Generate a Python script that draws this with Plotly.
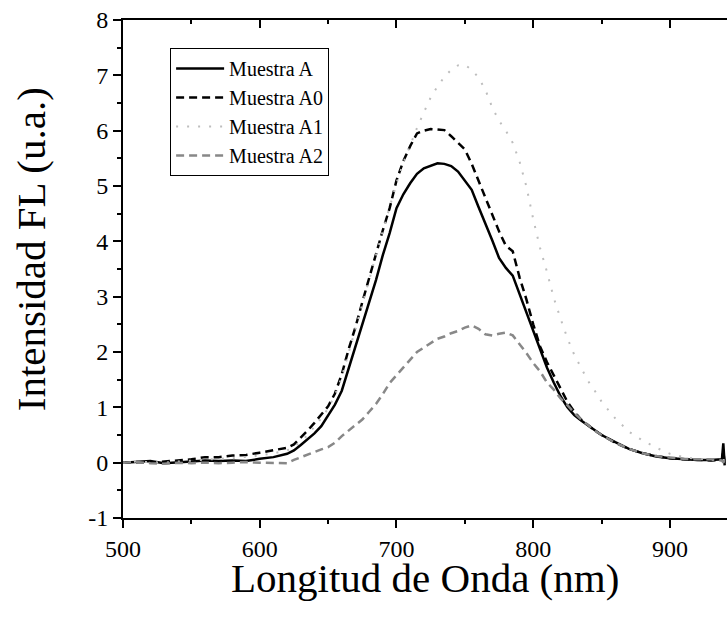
import plotly.graph_objects as go

wavelength = [500, 510, 520, 530, 540, 550, 560, 570, 580, 590, 600, 610, 620,
              625, 630, 635, 640, 645, 650, 655, 660, 665, 670, 675, 680, 685, 690, 695,
              700, 705, 710, 715, 720, 725, 730, 735, 740, 745, 750, 755, 760, 765, 770,
              775, 780, 785, 790, 795, 800, 805, 810, 815, 820, 825, 830, 835, 840, 845,
              850, 860, 870, 880, 890, 900, 910, 920, 930, 938, 939, 940]

muestra_a = [0.00, 0.02, 0.03, -0.01, 0.00, 0.02, 0.04, 0.03, 0.04, 0.03, 0.07, 0.10, 0.16,
             0.22, 0.32, 0.42, 0.53, 0.66, 0.85, 1.05, 1.30, 1.70, 2.10, 2.50, 2.90, 3.30, 3.75, 4.15,
             4.60, 4.85, 5.05, 5.22, 5.32, 5.36, 5.41, 5.40, 5.36, 5.26, 5.10, 4.93, 4.62, 4.33, 4.02,
             3.70, 3.52, 3.38, 3.05, 2.72, 2.40, 2.05, 1.72, 1.45, 1.20, 1.00, 0.86, 0.76, 0.67, 0.58,
             0.50, 0.37, 0.25, 0.17, 0.11, 0.08, 0.06, 0.05, 0.05, 0.06, 0.35, -0.05]

muestra_a0 = [0.00, 0.01, 0.00, 0.02, 0.03, 0.06, 0.10, 0.10, 0.13, 0.14, 0.18, 0.22, 0.27,
              0.33, 0.45, 0.58, 0.72, 0.88, 1.02, 1.25, 1.60, 2.05, 2.45, 2.90, 3.35, 3.80, 4.20, 4.60,
              5.10, 5.45, 5.72, 5.95, 6.00, 6.03, 6.02, 6.01, 5.90, 5.78, 5.66, 5.40, 5.10, 4.80, 4.48,
              4.18, 3.92, 3.82, 3.35, 2.95, 2.50, 2.10, 1.82, 1.58, 1.32, 1.10, 0.92, 0.78, 0.68, 0.58,
              0.50, 0.36, 0.25, 0.17, 0.12, 0.08, 0.06, 0.05, 0.04, 0.05, 0.20, 0.00]

muestra_a1 = [0.00, 0.02, 0.01, 0.00, 0.02, 0.04, 0.06, 0.07, 0.08, 0.10, 0.13, 0.17, 0.22,
              0.28, 0.38, 0.50, 0.64, 0.80, 0.98, 1.22, 1.55, 1.98, 2.40, 2.85, 3.30, 3.75, 4.20, 4.60,
              5.05, 5.42, 5.75, 6.05, 6.33, 6.60, 6.80, 6.97, 7.10, 7.18, 7.19, 7.10, 6.96, 6.74, 6.42,
              6.18, 6.00, 5.78, 5.44, 4.99, 4.40, 3.88, 3.45, 2.98, 2.60, 2.25, 1.95, 1.72, 1.48, 1.30,
              1.10, 0.80, 0.56, 0.40, 0.27, 0.16, 0.10, 0.07, 0.05, 0.05, 0.05, 0.05]

muestra_a2 = [0.00, 0.01, -0.01, -0.02, 0.00, -0.01, 0.00, -0.01, 0.00, 0.01, 0.00, 0.00, -0.01,
              0.05, 0.10, 0.15, 0.20, 0.24, 0.28, 0.36, 0.48, 0.58, 0.68, 0.78, 0.92, 1.06, 1.24, 1.44,
              1.58, 1.72, 1.88, 2.00, 2.08, 2.16, 2.24, 2.28, 2.34, 2.38, 2.44, 2.48, 2.42, 2.32, 2.30,
              2.33, 2.35, 2.30, 2.15, 1.98, 1.80, 1.65, 1.45, 1.32, 1.16, 1.04, 0.90, 0.78, 0.68, 0.58,
              0.50, 0.36, 0.25, 0.17, 0.12, 0.09, 0.07, 0.06, 0.06, 0.04, 0.00, 0.05]

series_names = ["Muestra A", "Muestra A0", "Muestra A1", "Muestra A2"]
x_ticks = [500, 600, 700, 800, 900]
y_ticks = [-1, 0, 1, 2, 3, 4, 5, 6, 7, 8]
y_tick_text = ["-1", "0", "1", "2", "3", "4", "5", "6", "7", "8"]

FONT = "Liberation Serif"

styles = [
    dict(color="black", width=2.5, dash="solid"),
    dict(color="black", width=2.5, dash="8px,5px"),
    dict(color="#bdbdbd", width=2, dash="2px,9px"),
    dict(color="#888888", width=2.5, dash="8px,5px"),
]

fig = go.Figure()
for name, ys, st in zip(series_names, [muestra_a, muestra_a0, muestra_a1, muestra_a2], styles):
    fig.add_trace(go.Scatter(x=wavelength, y=ys, mode="lines", name=name, line=st))

# dummy trace for top axis
fig.add_trace(go.Scatter(x=[500], y=[None], xaxis="x2", showlegend=False, hoverinfo="skip"))

axis_common = dict(showgrid=False, zeroline=False, showline=True, linecolor="black", linewidth=1.8,
                   tickfont=dict(family=FONT, size=24, color="black"), tickcolor="black", tickwidth=1.8)

fig.update_layout(
    width=727, height=622,
    margin=dict(l=123, r=0, t=20, b=104),
    paper_bgcolor="white", plot_bgcolor="white",
    showlegend=True,
    legend=dict(x=0.078, y=0.944, xanchor="left", yanchor="top",
                bordercolor="black", borderwidth=1, bgcolor="white",
                font=dict(family=FONT, size=20, color="black"),
                tracegroupgap=0, itemwidth=48),
    xaxis=dict(range=[500, 941.7], tickmode="array", tickvals=x_ticks, ticks="outside", ticklen=8,
               minor=dict(dtick=50, ticks="outside", ticklen=4, tickcolor="black", tickwidth=1.8),
               **axis_common),
    xaxis2=dict(range=[500, 941.7], overlaying="x", side="top", anchor="y", showticklabels=False,
                tickmode="array", tickvals=x_ticks, ticks="inside", ticklen=8,
                minor=dict(dtick=50, ticks="inside", ticklen=4, tickcolor="black", tickwidth=1.8),
                **axis_common),
    yaxis=dict(range=[-1, 8], tickmode="array", tickvals=y_ticks, ticktext=y_tick_text,
               ticks="outside", ticklen=8,
               minor=dict(dtick=0.5, ticks="outside", ticklen=4, tickcolor="black", tickwidth=1.8),
               **axis_common),
    annotations=[
        dict(text="Longitud de Onda (nm)", xref="paper", yref="paper", x=0.5, y=-0.12,
             xanchor="center", yanchor="middle", showarrow=False,
             font=dict(family=FONT, size=41, color="black")),
        dict(text="Intensidad FL (u.a.)", xref="paper", yref="paper", x=-0.152, y=0.54,
             xanchor="center", yanchor="middle", textangle=-90, showarrow=False,
             font=dict(family=FONT, size=41, color="black")),
    ],
)

fig.write_html("out.html")
